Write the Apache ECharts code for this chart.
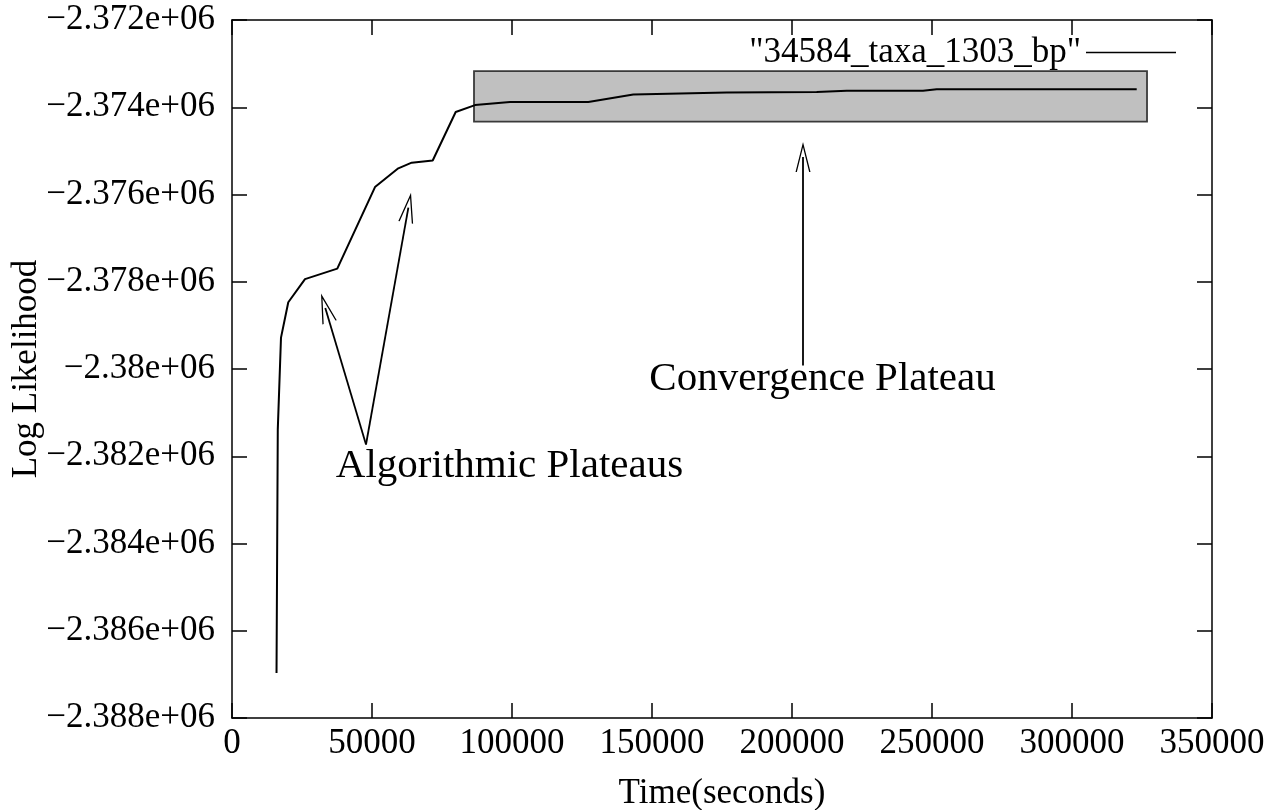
<!DOCTYPE html>
<html>
<head>
<meta charset="utf-8">
<script src="https://cdn.jsdelivr.net/npm/echarts@6/dist/echarts.min.js"></script>
<style>
html,body{margin:0;padding:0;background:#fff;}
#chart{width:1281px;height:810px;}
</style>
</head>
<body>
<div id="chart"></div>
<script>
// ---- data ----
const seriesName = '"34584_taxa_1303_bp"';
const times = [15900, 16350, 17500, 20100, 26070, 37600, 51070, 59390, 64180, 71680, 79890, 86790, 99290, 127250, 143320, 176680, 208820, 219540, 246790, 251680, 323110];
const logLik = [-2386970, -2381390, -2379280, -2378470, -2377940, -2377700, -2375830, -2375400, -2375270, -2375220, -2374110, -2373950, -2373880, -2373880, -2373710, -2373660, -2373650, -2373620, -2373620, -2373590, -2373590];
// convergence plateau box: [xStart, yTop, xEnd, yBottom]
const plateauBox = [86430, -2373170, 326790, -2374330];
// annotation arrows: [tailX, tailY, headCentreX, headCentreY]
const arrowConv = [203930, -2379920, 203930, -2375140];
const arrowAlg1 = [47860, -2381730, 33320, -2378600];
const arrowAlg2 = [47860, -2381730, 62990, -2376300];
// annotation labels: [x, y, text]
const labelConv = [210900, -2380240, 'Convergence Plateau'];
const labelAlg = [99100, -2382230, 'Algorithmic Plateaus'];
// axes
const xMin = 0, xMax = 350000, xStep = 50000;
const yMin = -2388000, yMax = -2372000, yStep = 2000;
const xAxisTitle = 'Time(seconds)';
const yAxisTitle = 'Log Likelihood';

const FONT = "'Liberation Serif','DejaVu Serif',serif";
const lineData = times.map((t, i) => [t, logLik[i]]);

function fmtY(v) {
  const m = parseFloat((Math.abs(v) / 1e6).toFixed(3)).toString();
  return (v < 0 ? '\u2212' : '') + m + 'e+06';
}
function arrow(a) { return [{coord: [a[0], a[1]]}, {coord: [a[2], a[3]]}]; }
function label(l, size) {
  return {coord: [l[0], l[1]], value: l[2], symbol: 'rect', symbolSize: 0,
    label: {show: true, position: 'inside', formatter: l[2], color: '#000', fontSize: size, fontFamily: FONT}};
}
const chevron = 'path://M10,0 L20,28 L18.2,28 L10,5 L1.8,28 L0,28 Z';

const axisCommon = {
  min: xMin, max: xMax, interval: xStep, type: 'value',
  splitLine: {show: false},
  axisLine: {show: true, onZero: false, lineStyle: {color: '#000', width: 1.5}},
  axisTick: {show: true, inside: true, length: 15, lineStyle: {color: '#000', width: 1.5}}
};

const chart = echarts.init(document.getElementById('chart'));
chart.setOption({
  animation: false,
  backgroundColor: '#fff',
  grid: {left: 232, top: 20, right: 69, bottom: 92, show: false, containLabel: false, outerBoundsMode: 'none'},
  legend: {
    data: [seriesName], right: 100, top: 30, align: 'right',
    icon: 'rect', itemWidth: 90, itemHeight: 1.5,
    textStyle: {fontSize: 35, fontFamily: FONT, color: '#000'},
    itemStyle: {color: '#000'}, selectedMode: false
  },
  xAxis: [
    Object.assign({}, axisCommon, {
      position: 'bottom',
      name: xAxisTitle, nameLocation: 'middle', nameGap: 58, nameMoveOverlap: false,
      nameTextStyle: {fontSize: 35, fontFamily: FONT, color: '#000'},
      axisLabel: {show: true, margin: 8, fontSize: 35, fontFamily: FONT, color: '#000',
        formatter: v => String(v), showMinLabel: true, showMaxLabel: true}
    }),
    Object.assign({}, axisCommon, {position: 'top', axisLabel: {show: false}})
  ],
  yAxis: [
    Object.assign({}, axisCommon, {
      min: yMin, max: yMax, interval: yStep, position: 'left',
      name: yAxisTitle, nameLocation: 'middle', nameGap: 188, nameRotate: 90, nameMoveOverlap: false,
      nameTextStyle: {fontSize: 35, fontFamily: FONT, color: '#000'},
      axisLabel: {show: true, margin: 17, fontSize: 35, fontFamily: FONT, color: '#000',
        formatter: fmtY, showMinLabel: true, showMaxLabel: true}
    }),
    Object.assign({}, axisCommon, {min: yMin, max: yMax, interval: yStep, position: 'right', axisLabel: {show: false}})
  ],
  series: [
    {
      name: 'annotations', type: 'line', data: [], z: 1, silent: true,
      xAxisIndex: 0, yAxisIndex: 0,
      markArea: {
        silent: true,
        itemStyle: {color: '#c0c0c0', borderColor: '#3a3a3a', borderWidth: 1.8},
        data: [[{coord: [plateauBox[0], plateauBox[1]]}, {coord: [plateauBox[2], plateauBox[3]]}]]
      },
      markLine: {
        silent: true, animation: false,
        symbol: ['none', chevron], symbolSize: [15, 30],
        label: {show: false},
        lineStyle: {color: '#000', width: 1.8, type: 'solid'},
        emphasis: {disabled: true},
        data: [arrow(arrowConv), arrow(arrowAlg1), arrow(arrowAlg2)]
      },
      markPoint: {
        silent: true,
        data: [label(labelConv, 41), label(labelAlg, 41)]
      }
    },
    {
      name: seriesName, type: 'line', data: lineData, z: 3,
      xAxisIndex: 0, yAxisIndex: 0,
      showSymbol: false, symbol: 'none',
      lineStyle: {color: '#000', width: 2},
      itemStyle: {color: '#000'}
    }
  ]
});
</script>
</body>
</html>
